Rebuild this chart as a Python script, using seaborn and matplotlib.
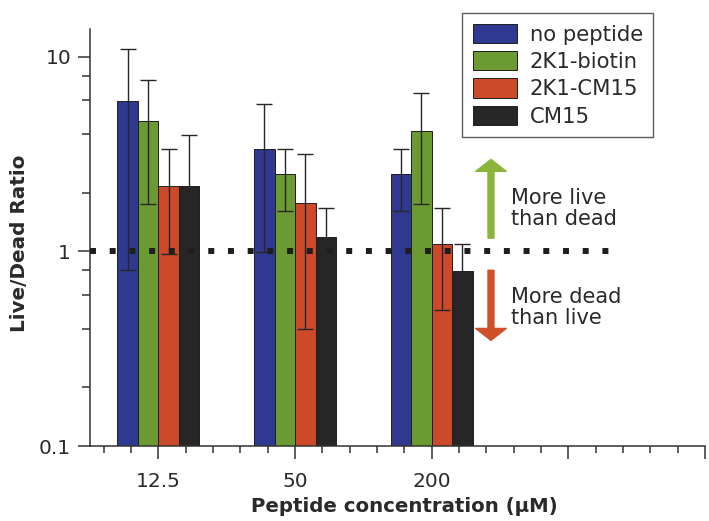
import numpy as np
import pandas as pd
import matplotlib
matplotlib.use("Agg")
import matplotlib.pyplot as plt
from matplotlib.ticker import FixedLocator, MultipleLocator, LogLocator, NullFormatter
import seaborn as sns

# ---- data ----
concentrations = ["12.5", "50", "200"]
extra_ticks = ["", ""]
treatments = ["no peptide", "2K1-biotin", "2K1-CM15", "CM15"]
no_peptide = [5.9, 3.37, 2.49]
k1_biotin = [4.68, 2.49, 4.15]
k1_cm15 = [2.17, 1.78, 1.09]
cm15 = [2.18, 1.19, 0.79]
no_peptide_err = [5.1, 2.38, 0.88]
k1_biotin_err = [2.92, 0.88, 2.4]
k1_cm15_err = [1.2, 1.38, 0.59]
cm15_err = [1.77, 0.49, 0.3]
colors = ["#2f3990", "#6c9a32", "#cc4a2a", "#262626"]
ref_line = 1.0

values = [no_peptide, k1_biotin, k1_cm15, cm15]
errors = [no_peptide_err, k1_biotin_err, k1_cm15_err, cm15_err]
df = pd.DataFrame({
    "conc": [c for t in treatments for c in concentrations],
    "treatment": [t for t in treatments for _ in concentrations],
    "ratio": [v for vals in values for v in vals],
    "err": [e for errs in errors for e in errs],
})

sns.set_style("ticks")
plt.rcParams["font.family"] = ["DejaVu Sans"]
txt = "#2a2a2a"

fig = plt.figure(figsize=(7.09, 5.21), dpi=100)
ax = fig.add_axes([90 / 709, 1 - 446 / 521, 615 / 709, 417 / 521])

sns.barplot(data=df, x="conc", y="ratio", hue="treatment", order=concentrations,
            hue_order=treatments, palette=colors, width=0.6, errorbar=None,
            edgecolor="#1e1e1e", linewidth=0.7, saturation=1, ax=ax, legend=False)

ax.set_yscale("log")

# error bars from bar geometry
bar_containers = list(ax.containers)
for i, cont in enumerate(bar_containers):
    xs = [p.get_x() + p.get_width() / 2 for p in cont.patches]
    hs = [p.get_height() for p in cont.patches]
    ax.errorbar(xs, hs, yerr=errors[i], fmt="none", ecolor="#262626",
                elinewidth=1.0, capsize=6, capthick=1.0, zorder=4)

# dotted reference line
ax.plot([-0.5, 3.35], [ref_line, ref_line], color="#1e1e1e", linewidth=4.3,
        linestyle=(0, (1, 2.3)), dash_capstyle="butt", zorder=6, clip_on=False)

ax.set_xlim(-0.5, 4.0)
ax.set_ylim(0.1, 13.9)

ax.xaxis.set_major_locator(FixedLocator([0, 1, 2, 3, 4]))
ax.set_xticklabels(concentrations + extra_ticks)
ax.xaxis.set_minor_locator(MultipleLocator(0.2))
ax.yaxis.set_major_locator(FixedLocator([0.1, 1, 10]))
ax.set_yticklabels(["0.1", "1", "10"])
ax.yaxis.set_minor_locator(LogLocator(base=10, subs=[2, 4, 6, 8]))
ax.yaxis.set_minor_formatter(NullFormatter())

for side in ["top", "right"]:
    ax.spines[side].set_visible(False)
for side in ["left", "bottom"]:
    ax.spines[side].set_color("#333333")
    ax.spines[side].set_linewidth(1.1)

ax.tick_params(axis="y", which="major", length=8.6, width=1.1, pad=5,
               labelsize=14.5, colors="#333333", labelcolor=txt)
ax.tick_params(axis="y", which="minor", length=5.8, width=1.1, colors="#333333")
ax.tick_params(axis="x", which="major", length=9.4, width=1.1, pad=9,
               labelsize=14.5, colors="#333333", labelcolor=txt)
ax.tick_params(axis="x", which="minor", length=5, width=1.1, colors="#333333")

ax.set_ylabel("Live/Dead Ratio", fontsize=14.4, fontweight="bold", color=txt)
ax.yaxis.set_label_coords((20 - 90) / 615, (446 - 243) / 417)
ax.set_xlabel("Peptide concentration (\u03bcM)", fontsize=14.2, fontweight="bold", color=txt)
ax.xaxis.set_label_coords((404 - 90) / 615, (446 - 507) / 417)
ax.xaxis.label.set_va("center")
ax.yaxis.label.set_va("center")

# legend
handles = [plt.Rectangle((0, 0), 1, 1, facecolor=c, edgecolor="#1e1e1e", linewidth=0.7)
           for c in colors]
leg = ax.legend(handles, treatments, loc="upper left",
                bbox_to_anchor=((462 - 90) / 615, (446 - 13) / 417),
                borderaxespad=0, frameon=True, fancybox=False, fontsize=15.2,
                handlelength=2.1, handleheight=1.05, handletextpad=0.6,
                labelspacing=0.3, borderpad=0.5)
leg.get_frame().set_edgecolor("#333333")
leg.get_frame().set_linewidth(1.0)
for t in leg.get_texts():
    t.set_color(txt)

# annotation arrows
ax.annotate("", xy=(2.434, 2.97), xytext=(2.434, 1.17),
            arrowprops=dict(arrowstyle="simple,head_width=2.2,head_length=0.86,tail_width=0.43",
                            color="#8ab43a", shrinkA=0, shrinkB=0, mutation_scale=10))
ax.annotate("", xy=(2.434, 0.349), xytext=(2.434, 0.80),
            arrowprops=dict(arrowstyle="simple,head_width=2.2,head_length=0.86,tail_width=0.43",
                            color="#d0502a", shrinkA=0, shrinkB=0, mutation_scale=10))
ax.text(2.58, 1.66, "More live\nthan dead", fontsize=15, color=txt, va="center", ha="left",
        linespacing=1.1)
ax.text(2.58, 0.515, "More dead\nthan live", fontsize=15, color=txt, va="center", ha="left",
        linespacing=1.1)

fig.savefig("out.png", dpi=100)
